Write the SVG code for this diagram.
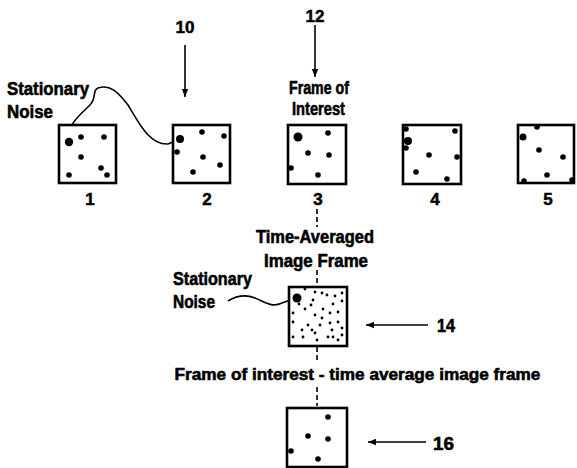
<svg xmlns="http://www.w3.org/2000/svg" width="577" height="468" viewBox="0 0 577 468">
<style>
.t{font-family:"Liberation Sans",Arial,sans-serif;font-weight:bold;font-size:19px;fill:#000;stroke:#000;stroke-width:0.6}
.n{font-family:"Liberation Sans",Arial,sans-serif;font-weight:bold;font-size:17px;fill:#000;stroke:#000;stroke-width:0.5;text-anchor:middle}
.box{fill:#fff;stroke:#000;stroke-width:2.6}
.ln{fill:none;stroke:#000;stroke-width:1.6}
.dash{fill:none;stroke:#000;stroke-width:1.6;stroke-dasharray:5,3}
.d{fill:#000}
</style>
<defs>
<marker id="ah" viewBox="0 0 10 10" refX="10" refY="5" markerWidth="8" markerHeight="8" markerUnits="userSpaceOnUse" orient="auto">
<path d="M0,1 L10,5 L0,9 Z" fill="#000"/>
</marker>
</defs>
<rect width="577" height="468" fill="#fff"/>
<g id="connectors">
<line class="ln" x1="185" y1="45" x2="185" y2="97" marker-end="url(#ah)"/>
<line class="ln" x1="315" y1="25" x2="315" y2="77" marker-end="url(#ah)"/>
<path class="ln" d="M69,142 C66,125 80,115 90,105 C97,98 92,90 98,88 C110,84 118,92 128,105 C140,125 150,145 168,144 L180,139"/>
<path class="ln" d="M228,301 C236,296 245,294 255,298 S272,308 282,303 L296,298"/>
<line class="dash" x1="317" y1="209" x2="317" y2="227"/>
<line class="dash" x1="317" y1="270" x2="317" y2="287"/>
<line class="dash" x1="317" y1="347" x2="317" y2="362"/>
<line class="dash" x1="317" y1="387" x2="317" y2="406"/>
<line class="ln" x1="428" y1="325" x2="366" y2="325" marker-end="url(#ah)"/>
<line class="ln" x1="426" y1="442" x2="368" y2="442" marker-end="url(#ah)"/>
</g>
<g id="label-10"><text class="n" x="185" y="33">10</text></g>
<g id="label-12"><text class="n" x="315" y="22">12</text></g>
<g id="label-noise1">
<text class="t" x="7" y="95" textLength="82" lengthAdjust="spacingAndGlyphs">Stationary</text>
<text class="t" x="7" y="118" textLength="46" lengthAdjust="spacingAndGlyphs">Noise</text>
</g>
<g id="label-foi">
<text class="t" x="289" y="94" textLength="60" lengthAdjust="spacingAndGlyphs">Frame of</text>
<text class="t" x="292" y="115" textLength="53" lengthAdjust="spacingAndGlyphs">Interest</text>
</g>
<g id="frame1">
<rect class="box" x="59" y="125" width="57" height="58"/>
<circle class="d" cx="69" cy="142" r="4.2"/>
<circle class="d" cx="81" cy="137" r="2.8"/><circle class="d" cx="104" cy="137" r="2.8"/>
<circle class="d" cx="81" cy="157" r="2.8"/><circle class="d" cx="101" cy="168" r="2.8"/>
<circle class="d" cx="107" cy="175" r="2.8"/><circle class="d" cx="69" cy="175" r="2.8"/>
<text class="n" x="90" y="205">1</text>
</g>
<g id="frame2">
<rect class="box" x="173" y="125" width="57" height="58"/>
<circle class="d" cx="180" cy="139" r="4"/>
<circle class="d" cx="202" cy="132" r="2.8"/><circle class="d" cx="224" cy="136" r="2.8"/>
<circle class="d" cx="177" cy="152" r="2.8"/><circle class="d" cx="203" cy="157" r="2.8"/>
<circle class="d" cx="220" cy="165" r="2.8"/><circle class="d" cx="193" cy="172" r="2.8"/>
<text class="n" x="207" y="205">2</text>
</g>
<g id="frame3">
<rect class="box" x="288" y="125" width="58" height="59"/>
<circle class="d" cx="298" cy="137" r="4.5"/>
<circle class="d" cx="328" cy="133" r="2.8"/><circle class="d" cx="308" cy="153" r="2.8"/>
<circle class="d" cx="329" cy="155" r="2.8"/><circle class="d" cx="291" cy="168" r="2.8"/>
<circle class="d" cx="318" cy="175" r="2.8"/>
<text class="n" x="318" y="205">3</text>
</g>
<g id="frame4">
<rect class="box" x="403" y="125" width="58" height="59"/>
<circle class="d" cx="406" cy="129" r="2.8"/><circle class="d" cx="408" cy="141" r="4"/>
<circle class="d" cx="406" cy="148" r="2.8"/><circle class="d" cx="455" cy="131" r="2.8"/>
<circle class="d" cx="429" cy="155" r="2.8"/><circle class="d" cx="457" cy="157" r="2.8"/>
<circle class="d" cx="416" cy="172" r="2.8"/><circle class="d" cx="447" cy="179" r="2.8"/>
<text class="n" x="435" y="205">4</text>
</g>
<g id="frame5">
<rect class="box" x="518" y="125" width="56" height="58"/>
<circle class="d" cx="523" cy="137" r="3.5"/><circle class="d" cx="537" cy="127" r="2.8"/>
<circle class="d" cx="539" cy="150" r="2.8"/><circle class="d" cx="563" cy="157" r="2.8"/>
<circle class="d" cx="547" cy="175" r="2.8"/><circle class="d" cx="524" cy="181" r="2.8"/>
<circle class="d" cx="572" cy="180" r="2.8"/>
<text class="n" x="548" y="205">5</text>
</g>
<g id="label-avg">
<text class="t" x="256" y="243" textLength="118" lengthAdjust="spacingAndGlyphs">Time-Averaged</text>
<text class="t" x="264" y="267" textLength="104" lengthAdjust="spacingAndGlyphs">Image Frame</text>
</g>
<g id="label-noise2">
<text class="t" x="173" y="285" textLength="79" lengthAdjust="spacingAndGlyphs">Stationary</text>
<text class="t" x="173" y="308" textLength="42" lengthAdjust="spacingAndGlyphs">Noise</text>
</g>
<g id="frame-avg">
<rect class="box" x="289" y="287" width="58" height="59"/>
<circle class="d" cx="297" cy="298" r="4.5"/>
<g fill="#000">
<circle cx="305" cy="289" r="1.4"/><circle cx="315" cy="292" r="1.4"/><circle cx="322" cy="293" r="1.4"/><circle cx="327" cy="295" r="1.4"/><circle cx="335" cy="296" r="1.4"/><circle cx="342" cy="293" r="1.4"/>
<circle cx="313" cy="300" r="1.4"/><circle cx="311" cy="305" r="1.4"/><circle cx="305" cy="309" r="1.4"/><circle cx="323" cy="309" r="1.4"/><circle cx="333" cy="304" r="1.4"/><circle cx="342" cy="301" r="1.4"/>
<circle cx="315" cy="315" r="1.4"/><circle cx="322" cy="318" r="1.4"/><circle cx="330" cy="313" r="1.4"/><circle cx="338" cy="312" r="1.4"/><circle cx="293" cy="313" r="1.4"/>
<circle cx="293" cy="322" r="1.4"/><circle cx="308" cy="325" r="1.4"/><circle cx="320" cy="325" r="1.4"/><circle cx="330" cy="323" r="1.4"/><circle cx="338" cy="322" r="1.4"/>
<circle cx="302" cy="330" r="1.4"/><circle cx="315" cy="333" r="1.4"/><circle cx="312" cy="330" r="1.4"/><circle cx="332" cy="330" r="1.4"/><circle cx="342" cy="328" r="1.4"/>
<circle cx="293" cy="337" r="1.4"/><circle cx="303" cy="337" r="1.4"/><circle cx="317" cy="340" r="1.4"/><circle cx="328" cy="337" r="1.4"/><circle cx="333" cy="337" r="1.4"/><circle cx="342" cy="335" r="1.4"/>
<circle cx="299" cy="304" r="1.4"/><circle cx="338" cy="340" r="1.4"/>
</g>
</g>
<g id="label-14"><text class="t" x="437" y="332" textLength="18" lengthAdjust="spacingAndGlyphs">14</text></g>
<g id="label-diff"><text class="t" x="357.5" y="380" text-anchor="middle" style="font-size:17.2px">Frame of interest - time average image frame</text></g>
<g id="frame-diff">
<rect class="box" x="287" y="408" width="60" height="59"/>
<circle class="d" cx="328" cy="417" r="2.8"/><circle class="d" cx="308" cy="436" r="2.8"/>
<circle class="d" cx="328" cy="439" r="2.8"/><circle class="d" cx="291" cy="451" r="2.8"/>
<circle class="d" cx="318" cy="459" r="2.8"/>
</g>
<g id="label-16"><text class="t" x="433" y="450" textLength="21" lengthAdjust="spacingAndGlyphs">16</text></g>
</svg>
